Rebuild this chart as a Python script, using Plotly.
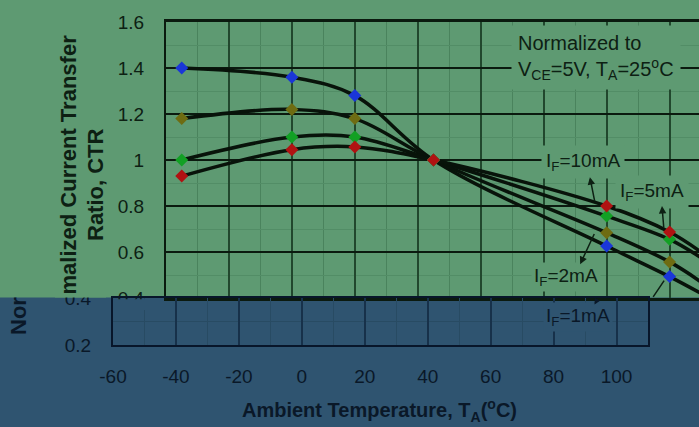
import plotly.graph_objects as go

# ---------------- data ----------------
temps = [-55, -20, 0, 25, 80, 100, 110]
marker_temps = [-55, -20, 0, 25, 80, 100]
ctr_1mA = [1.40, 1.36, 1.28, 1.00, 0.626, 0.493, 0.42]
ctr_2mA = [1.18, 1.22, 1.18, 1.00, 0.684, 0.557, 0.47]
ctr_5mA = [1.00, 1.10, 1.10, 1.00, 0.756, 0.655, 0.575]
ctr_10mA = [0.93, 1.045, 1.057, 1.00, 0.80, 0.687, 0.60]
series_names = ["I<sub>F</sub>=1mA", "I<sub>F</sub>=2mA", "I<sub>F</sub>=5mA", "I<sub>F</sub>=10mA"]
x_ticks = [-60, -40, -20, 0, 20, 40, 60, 80, 100]
x_tick_text = ["-60", "-40", "-20", "0", "20", "40", "60", "80", "100"]
y_ticks_top = [0.4, 0.6, 0.8, 1.0, 1.2, 1.4, 1.6]
y_tick_text_top = ["0.4", "0.6", "0.8", "1", "1.2", "1.4", "1.6"]
y_ticks_bottom = [0.2, 0.4]
y_tick_text_bottom = ["0.2", "0.4"]

# ---------------- style ----------------
W, H = 699, 427
GREEN = "#5e9a72"
BLUE = "#2f5470"
GX_MAJOR = "#21472d"
GY_MAJOR = "#0b1a0f"
GX_MINOR = "#4a835d"
GY_MINOR = "#528d66"
BX_MAJOR = "#17314a"
BY_MAJOR = "#08162a"
B_MINOR = "#284b63"
TXT_G = "#0d2013"
TXT_B = "#0a1828"
LINE = "#08130a"
MCOL = ["#1a36d8", "#6e6c12", "#12a024", "#b01212"]
FONT = "Liberation Sans, Arial, sans-serif"


def fx(px):
    return px / W


def fy(py):
    return 1 - py / H


fig = go.Figure()

all_series = [ctr_1mA, ctr_2mA, ctr_5mA, ctr_10mA]
for name, vals in zip(series_names, all_series):
    fig.add_trace(go.Scatter(x=temps, y=vals, mode="lines", name=name,
                             line=dict(color=LINE, width=3.5, shape="spline", smoothing=1.0),
                             xaxis="x", yaxis="y", showlegend=False, hoverinfo="skip"))
for name, vals, col in zip(series_names, all_series, MCOL):
    fig.add_trace(go.Scatter(x=marker_temps, y=vals[:len(marker_temps)], mode="markers", name=name,
                             marker=dict(symbol="diamond", size=10, color=col),
                             xaxis="x", yaxis="y", showlegend=False))

# empty trace for the shifted lower strip
fig.add_trace(go.Scatter(x=[None], y=[None], xaxis="x2", yaxis="y2", showlegend=False))

tickfont_g = dict(family=FONT, size=19, color=TXT_G)
tickfont_b = dict(family=FONT, size=19, color=TXT_B)

fig.update_layout(
    width=W, height=H, autosize=False,
    margin=dict(l=0, r=0, t=0, b=0, pad=0, autoexpand=False),
    paper_bgcolor=GREEN, plot_bgcolor="rgba(0,0,0,0)",
    showlegend=False,
    xaxis=dict(domain=[fx(166), 1.0], range=[-60, 109.36], anchor="y", automargin=False,
               tickmode="array", tickvals=x_ticks, showticklabels=False,
               showgrid=True, gridcolor=GX_MAJOR, gridwidth=1.6,
               minor=dict(dtick=10, tick0=-60, showgrid=True, gridcolor=GX_MINOR, gridwidth=1),
               showline=True, mirror=True, linecolor=GY_MAJOR, linewidth=2.5,
               zeroline=False, ticks=""),
    yaxis=dict(domain=[fy(298), fy(22)], range=[0.4, 1.6], anchor="x", automargin=False,
               tickmode="array", tickvals=y_ticks_top, ticktext=y_tick_text_top,
               tickfont=tickfont_g, ticks="outside", ticklen=16, tickcolor="rgba(0,0,0,0)",
               showgrid=True, gridcolor=GY_MAJOR, gridwidth=1.5,
               minor=dict(dtick=0.1, tick0=0.4, showgrid=True, gridcolor=GY_MINOR, gridwidth=1),
               showline=True, linecolor=GY_MAJOR, linewidth=2.2, zeroline=False),
    xaxis2=dict(domain=[fx(113), fx(648)], range=[-60, 110], anchor="y2", automargin=False,
                tickmode="array", tickvals=x_ticks, ticktext=x_tick_text, tickfont=tickfont_b,
                ticks="outside", ticklen=13, tickcolor="rgba(0,0,0,0)",
                showgrid=True, gridcolor=BX_MAJOR, gridwidth=1.6,
                minor=dict(dtick=10, tick0=-60, showgrid=True, gridcolor=B_MINOR, gridwidth=1),
                showline=True, mirror=True, linecolor=BY_MAJOR, linewidth=2.2, zeroline=False),
    yaxis2=dict(domain=[fy(345), fy(298)], range=[0.2, 0.4], anchor="x2", automargin=False,
                tickmode="array", tickvals=y_ticks_bottom, ticktext=y_tick_text_bottom,
                tickfont=tickfont_b, ticks="outside", ticklen=16, tickcolor="rgba(0,0,0,0)",
                showgrid=True, gridcolor=BY_MAJOR, gridwidth=1.5,
                minor=dict(dtick=0.1, tick0=0.2, showgrid=True, gridcolor=B_MINOR, gridwidth=1),
                showline=True, mirror=True, linecolor=BY_MAJOR, linewidth=2.2, zeroline=False),
)

shapes = [
    # shifted dark-blue lower strip
    dict(type="rect", xref="paper", yref="paper", x0=0, x1=1, y0=0, y1=fy(297.5),
         fillcolor=BLUE, line=dict(width=0), layer="below"),
    # hide upper half of the strip's "0.4" label
    dict(type="rect", xref="paper", yref="paper", x0=fx(55), x1=fx(106), y0=fy(297.5), y1=fy(284),
         fillcolor=GREEN, line=dict(width=0), layer="above"),
    # hide lower half of the upper "0.4" label
    dict(type="rect", xref="paper", yref="paper", x0=fx(114.5), x1=fx(148), y0=fy(310), y1=fy(299.3),
         fillcolor=BLUE, line=dict(width=0), layer="above"),
]
fig.update_layout(shapes=shapes)

ann = []
# y-axis title pieces
ann.append(dict(text="malized Current Transfer", xref="paper", yref="paper", x=fx(68), y=fy(164.5),
                xanchor="center", yanchor="middle", textangle=-90, showarrow=False,
                font=dict(family=FONT, size=22, color=TXT_G, weight="bold")))
ann.append(dict(text="Ratio, CTR", xref="paper", yref="paper", x=fx(95), y=fy(184),
                xanchor="center", yanchor="middle", textangle=-90, showarrow=False,
                font=dict(family=FONT, size=22, color=TXT_G, weight="bold")))
ann.append(dict(text="Nor", xref="paper", yref="paper", x=fx(18), y=fy(316),
                xanchor="center", yanchor="middle", textangle=-90, showarrow=False,
                font=dict(family=FONT, size=22, color=TXT_B, weight="bold")))
# x-axis title
ann.append(dict(text="Ambient Temperature, T<sub>A</sub>(<sup>o</sup>C)", xref="paper", yref="paper",
                x=fx(380), y=fy(410), xanchor="center", yanchor="middle", showarrow=False,
                font=dict(family=FONT, size=20, color=TXT_B, weight="bold")))
# note
ann.append(dict(text="Normalized to<br>V<sub>CE</sub>=5V, T<sub>A</sub>=25<sup>o</sup>C", xref="x", yref="y",
                x=49.5, y=1.445, xanchor="left", yanchor="middle", align="left", showarrow=False,
                bgcolor=GREEN, borderpad=6, font=dict(family=FONT, size=20, color=TXT_G)))
# series labels
ann.append(dict(text=series_names[3], xref="x", yref="y", x=72.5, y=0.99, showarrow=False,
                bgcolor=GREEN, borderpad=4, font=dict(family=FONT, size=19, color=TXT_G)))
ann.append(dict(text=series_names[2], xref="x", yref="y", x=94.4, y=0.86, showarrow=False,
                bgcolor=GREEN, borderpad=4, font=dict(family=FONT, size=19, color=TXT_G)))
ann.append(dict(text=series_names[1], xref="x", yref="y", x=67.1, y=0.49, showarrow=False,
                bgcolor=GREEN, borderpad=2, font=dict(family=FONT, size=19, color=TXT_G)))
ann.append(dict(text=series_names[0], xref="x2", yref="y2", x=87.8, y=0.321, showarrow=False,
                bgcolor=BLUE, borderpad=2, font=dict(family=FONT, size=19, color=TXT_B)))
# arrows (head at x,y ; tail at ax,ay)
arrow_common = dict(text="", showarrow=True, arrowcolor=TXT_G, arrowwidth=1.5, arrowsize=1.0,
                    standoff=0, startstandoff=0)
ann.append(dict(xref="x", yref="y", axref="x", ayref="y", x=74.7, y=0.925, ax=76.3, ay=0.815,
                arrowhead=2, **arrow_common))
ann.append(dict(xref="x", yref="y", axref="x", ayref="y", x=97.6, y=0.80, ax=98.2, ay=0.70,
                arrowhead=2, **arrow_common))
ann.append(dict(xref="x", yref="y", axref="x", ayref="y", x=71.6, y=0.547, ax=76.3, ay=0.685,
                arrowhead=2, **arrow_common))
ann.append(dict(xref="x", yref="y", axref="x", ayref="y", x=94.8, y=0.405, ax=98.6, ay=0.482,
                arrowhead=0, **arrow_common))
ann.append(dict(xref="x2", yref="y2", axref="x2", ayref="y2", x=93.0, y=0.372, ax=94.2, ay=0.4,
                arrowhead=2, text="", showarrow=True, arrowcolor=TXT_B, arrowwidth=1.5, arrowsize=0.8,
                standoff=0, startstandoff=0))
fig.update_layout(annotations=ann)

fig.write_html(
    "out.html",
    config={"displayModeBar": False},
    post_script="document.body.style.margin='0';document.body.style.padding='0';"
                "document.documentElement.style.overflow='hidden';",
)
